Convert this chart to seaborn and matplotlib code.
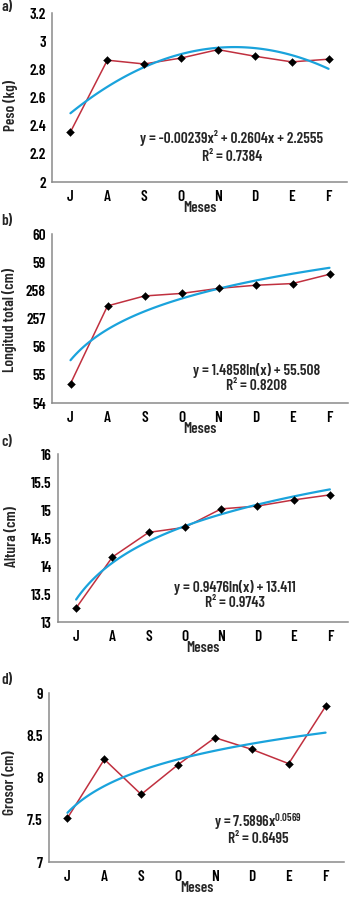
import numpy as np
import pandas as pd
import matplotlib
matplotlib.use("Agg")
import matplotlib.pyplot as plt
import seaborn as sns

# ---------------- data ----------------
months = ["J", "A", "S", "O", "N", "D", "E", "F"]
month_pos = [1, 2, 3, 4, 5, 6, 7, 8]

peso = [2.355, 2.865, 2.838, 2.88, 2.94, 2.893, 2.853, 2.872]
longitud = [54.685, 57.447, 57.80, 57.89, 58.07, 58.18, 58.24, 58.57]
altura = [13.25, 14.16, 14.60, 14.69, 15.02, 15.07, 15.18, 15.27]
grosor = [7.52, 8.215, 7.80, 8.152, 8.471, 8.333, 8.164, 8.842]

peso_ticks = [2, 2.2, 2.4, 2.6, 2.8, 3, 3.2]
peso_ticklabels = ["2", "2.2", "2.4", "2.6", "2.8", "3", "3.2"]
long_ticks = [54, 55, 56, 57, 58, 59, 60]
long_ticklabels = ["54", "55", "56", "257", "258", "59", "60"]
alt_ticks = [13, 13.5, 14, 14.5, 15, 15.5, 16]
alt_ticklabels = ["13", "13.5", "14", "14.5", "15", "15.5", "16"]
gro_ticks = [7, 7.5, 8, 8.5, 9]
gro_ticklabels = ["7", "7.5", "8", "8.5", "9"]

panel_letters = ["a)", "b)", "c)", "d)"]
ylabels = ["Peso (kg)", "Longitud total (cm)", "Altura (cm)", "Grosor (cm)"]
xlabel = "Meses"
equations = [
    "y = -0.00239x² + 0.2604x + 2.2555",
    "y = 1.4858ln(x) + 55.508",
    "y = 0.9476ln(x) + 13.411",
    "y = 7.5896x$^{0.0569}$",
]
r2_texts = ["R² = 0.7384", "R² = 0.8208", "R² = 0.9743", "R² = 0.6495"]

# ---------------- style ----------------
sns.set_theme(style="white")
FONT = "Barlow Condensed"
plt.rcParams["font.family"] = [FONT, "DejaVu Sans"]
plt.rcParams["font.weight"] = 600
plt.rcParams["axes.labelweight"] = 600
plt.rcParams["mathtext.fontset"] = "custom"
plt.rcParams["mathtext.rm"] = FONT + ":weight=600"
plt.rcParams["mathtext.it"] = FONT + ":weight=600"
plt.rcParams["mathtext.bf"] = FONT + ":weight=700"
plt.rcParams["mathtext.default"] = "regular"

RED = "#c0303f"
BLUE = "#1aa3dc"
AXC = "#8a8a8a"
W, H = 353, 897
FS = 11

fig = plt.figure(figsize=(W / 100, H / 100), dpi=100)


def box(left, right, top, bottom):
    return [left / W, 1 - bottom / H, (right - left) / W, (bottom - top) / H]


panels = [
    dict(data=peso, rect=box(52, 347, 13, 182), ylim=(2, 3.2), ticks=peso_ticks,
         tl=peso_ticklabels, fit=dict(order=2), letter_y=0, ylab=(18, 105),
         eq=(232, 138), r2=(232, 157)),
    dict(data=longitud, rect=box(52, 348, 234, 403), ylim=(54, 60), ticks=long_ticks,
         tl=long_ticklabels, fit=dict(logx=True), letter_y=214, ylab=(17, 320),
         eq=(257, 371), r2=(257, 386)),
    dict(data=altura, rect=box(58, 348, 454, 622), ylim=(13, 16), ticks=alt_ticks,
         tl=alt_ticklabels, fit=dict(logx=True), letter_y=435, ylab=(19, 537),
         eq=(235, 587), r2=(235, 603)),
    dict(data=grosor, rect=box(49, 344, 693, 862), ylim=(7, 9), ticks=gro_ticks,
         tl=gro_ticklabels, fit=dict(logx=True), letter_y=673, ylab=(17, 783),
         eq=(258, 822), r2=(258, 839)),
]

for i, p in enumerate(panels):
    ax = fig.add_axes(p["rect"])
    df = pd.DataFrame({"mes": month_pos, "valor": p["data"]})
    sns.lineplot(data=df, x="mes", y="valor", ax=ax, color=RED, lw=1.1, zorder=2)
    sns.regplot(data=df, x="mes", y="valor", ax=ax, scatter=False, ci=None,
                color=BLUE, line_kws=dict(lw=1.6, zorder=3), **p["fit"])
    sns.scatterplot(data=df, x="mes", y="valor", ax=ax, marker="D", s=16,
                    color="black", edgecolor="black", linewidth=0.3, zorder=4)

    ax.set_xlim(0.5, 8.5)
    ax.set_ylim(*p["ylim"])
    ax.set_yticks(p["ticks"])
    ax.set_yticklabels(p["tl"], fontsize=FS)
    ax.set_xticks(month_pos)
    ax.set_xticklabels(months, fontsize=FS)
    ax.set_xticks([1.5, 2.5, 3.5, 4.5, 5.5, 6.5, 7.5], minor=True)
    ax.tick_params(axis="x", which="major", length=0, pad=6, labelcolor="black")
    ax.tick_params(axis="x", which="minor", length=3.5, direction="in",
                   color=AXC, width=1)
    ax.tick_params(axis="y", which="major", length=3, direction="out",
                   color=AXC, width=1, pad=1.5, labelcolor="black")
    for s in ["top", "right"]:
        ax.spines[s].set_visible(False)
    for s in ["left", "bottom"]:
        ax.spines[s].set_color(AXC)
        ax.spines[s].set_linewidth(1.1)

    left_px = p["rect"][0] * W
    width_px = p["rect"][2] * W
    bottom_px = (1 - p["rect"][1]) * H
    height_px = p["rect"][3] * H
    ax.set_ylabel(ylabels[i], fontsize=FS)
    ax.yaxis.set_label_coords((p["ylab"][0] - left_px) / width_px,
                              (bottom_px - p["ylab"][1]) / height_px)
    ax.set_xlabel(xlabel, fontsize=FS)
    ax.xaxis.set_label_coords(0.5, -19 / height_px)

    fig.text(1 / W, 1 - p["letter_y"] / H, panel_letters[i], fontsize=FS,
             ha="left", va="top")
    fig.text(p["eq"][0] / W, 1 - p["eq"][1] / H, equations[i], fontsize=FS,
             ha="center", va="center")
    fig.text(p["r2"][0] / W, 1 - p["r2"][1] / H, r2_texts[i], fontsize=FS,
             ha="center", va="center")

fig.savefig("out.png", dpi=100)
